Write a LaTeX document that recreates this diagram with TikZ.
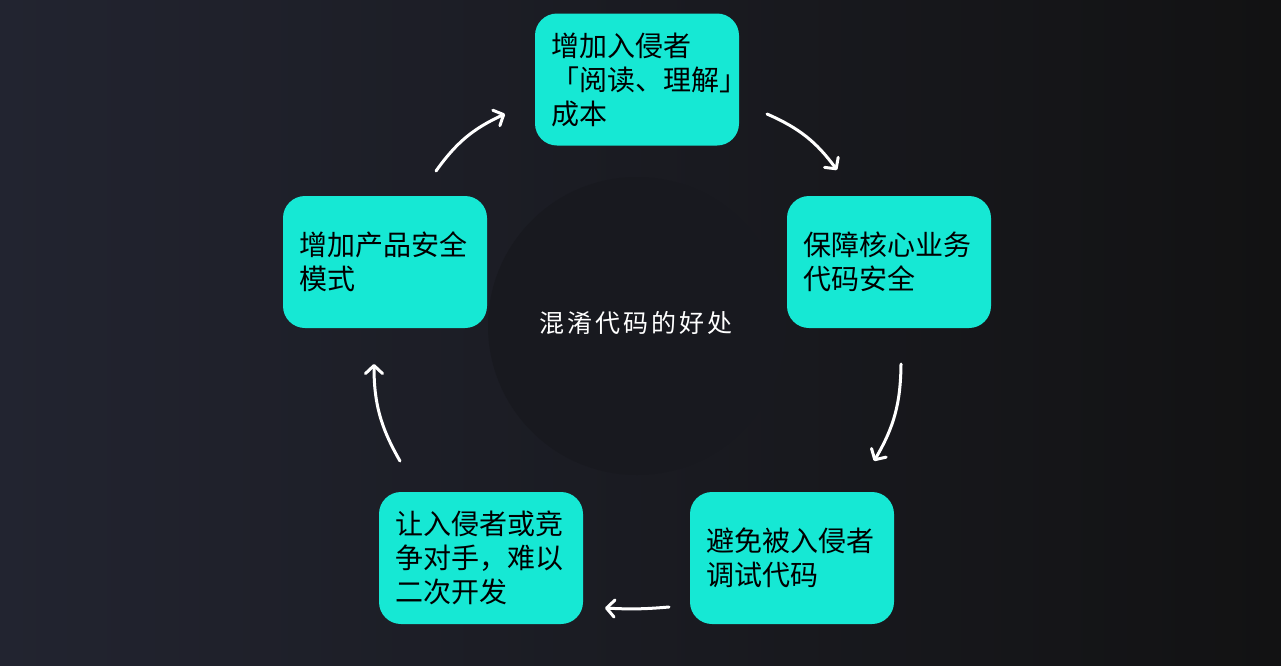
\documentclass[tikz,border=0pt]{standalone}
\usepackage{fontspec}
\setmainfont{Noto Sans CJK SC}
\newfontfamily\cjk{Noto Sans CJK SC}
\usetikzlibrary{arrows.meta}
\definecolor{bgleft}{HTML}{222430}
\definecolor{bgright}{HTML}{121213}
\definecolor{circ}{HTML}{18191F}
\definecolor{boxc}{HTML}{16E8D4}
\tikzset{
  box/.style={draw=none, fill=boxc, rounded corners=22pt, minimum width=204pt, minimum height=132pt,
    text width=172pt, inner xsep=16pt, inner ysep=0pt, align=left, text=black,
    font=\cjk\fontsize{28}{34}\selectfont},
  cyc/.style={draw=white, line width=3pt, line cap=round,
    -{Straight Barb[length=8pt, width=17pt, line width=3pt, round]}},
}
\begin{document}
\begin{tikzpicture}[x=1pt, y=-1pt]
\shade[shading=axis, left color=bgleft, right color=bgright] (0,0) rectangle (1281,665);
\useasboundingbox (0,0) rectangle (1281,665);
\fill[circ] (637,326) circle (149);
\node[text=white, font=\cjk\fontsize{25}{28}\selectfont\addfontfeature{LetterSpace=12}] (center) at (636,323) {混淆代码的好处};
\node[box] (top) at (637,79.5) {增加入侵者\\「阅读、理解」\\成本};
\node[box] (right) at (889,262) {保障核心业务\\代码安全};
\node[box] (br) at (792,558) {避免被入侵者\\调试代码};
\node[box] (bl) at (481,558) {让入侵者或竞\\争对手，难以\\二次开发};
\node[box] (left) at (385,262) {增加产品安全\\模式};
\coordinate (a1s) at (436,171); \coordinate (a1e) at (505,114);
\coordinate (a2s) at (767,114); \coordinate (a2e) at (837,170);
\coordinate (a3s) at (901,364); \coordinate (a3e) at (874,461);
\coordinate (a4s) at (669,607); \coordinate (a4e) at (605,608);
\coordinate (a5s) at (400,461); \coordinate (a5e) at (374,364);
\draw[cyc] (a1s) to[bend left=15] (a1e);
\draw[cyc] (a2s) to[bend left=15] (a2e);
\draw[cyc] (a3s) to[bend left=15] (a3e);
\draw[cyc] (a4s) to[bend left=4] (a4e);
\draw[cyc] (a5s) to[bend left=15] (a5e);
\end{tikzpicture}
\end{document}
